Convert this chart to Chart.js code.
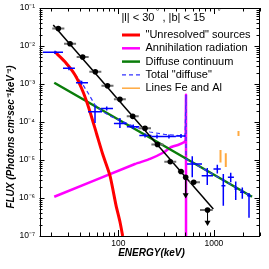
<!DOCTYPE html>
<html>
<head>
<meta charset="utf-8">
<script src="https://cdn.jsdelivr.net/npm/chart.js@4.4.1/dist/chart.umd.min.js"></script>
<style>
  html, body { margin: 0; padding: 0; background: #fff; }
  #wrap { width: 269px; height: 269px; position: relative; }
</style>
</head>
<body>
<div id="wrap"><canvas id="fluxChart"></canvas></div>
<script>
// tick labels
const xLabelValues = [100, 1000];
const xLabelText = ['100', '1000'];
const yLabelValues = [1e-1, 1e-2, 1e-3, 1e-4, 1e-5, 1e-6, 1e-7];
const yLabelText = ['10⁻¹', '10⁻²', '10⁻³', '10⁻⁴', '10⁻⁵', '10⁻⁶', '10⁻⁷'];

// measured points (black) with horizontal bins
const ptE = [23.6, 31.3, 42.4, 57.5, 77.1, 104, 141.6, 190.4, 257, 350, 453, 507, 615, 858];
const ptF = [2.89e-2, 1.15e-2, 5.14e-3, 2.11e-3, 8.97e-4, 3.95e-4, 1.41e-4, 6.83e-5, 2.56e-5, 9.0e-6, 4.98e-6, 3.5e-6, 2.6e-6, 4.83e-7];
const ptElo = [20.4, 27.1, 36.7, 49.8, 66.7, 90, 122.6, 165, 222, 303, 420, 490, 553, 716];
const ptEhi = [27.3, 36.2, 49.0, 66.5, 89.1, 120, 163.6, 220, 297, 404, 490, 525, 716, 973];
const limE = [507, 858];
const limF = [3.5e-6, 4.83e-7];
const limTo = [1.2e-6, 2.26e-7];

// power-law fit through the points
const fitE = [20.9, 986];
const fitF = [3.57e-2, 5.14e-7];

// "diffuse" points (blue)
const dfE = [21.8, 30.5, 41.4, 57.1, 75.7, 104, 143.5, 190.5, 254, 339, 453, 594, 853, 1086, 1255, 1500, 1692, 1983, 2330];
const dfF = [6.83e-3, 2.59e-3, 1.08e-3, 1.87e-4, 2.27e-4, 9.2e-5, 7.5e-5, 4.41e-5, 4.15e-5, 4.15e-5, 4.28e-5, 7.85e-6, 3.86e-6, 5.8e-6, 2.11e-6, 3.5e-6, 1.73e-6, 1.41e-6, 1.15e-6];
const dfElo = [16.3, 26.4, 36.1, 48.2, 66, 90, 123, 166, 222, 297, 400, 524, 745, 990, 1200, 1400, 1640, 1880, 2230];
const dfEhi = [26.4, 35.2, 48.2, 67.6, 88, 122, 166, 222, 297, 400, 505, 751, 980, 1180, 1320, 1620, 1760, 2090, 2430];
const dfFlo = [6.2e-3, 2.3e-3, 9.5e-4, 9.4e-5, 2.0e-4, 7.0e-5, 6.5e-5, 3.9e-5, 3.7e-5, 3.7e-5, 3.8e-5, 3.5e-6, 2.2e-6, 4.4e-6, 6.3e-7, 2.6e-6, 8.8e-7, 9.6e-7, 3.0e-7];
const dfFhi = [7.5e-3, 2.9e-3, 1.22e-3, 2.64e-4, 2.55e-4, 1.27e-4, 8.6e-5, 5.0e-5, 4.7e-5, 4.7e-5, 4.8e-5, 1.25e-5, 6.2e-6, 7.5e-6, 4.3e-6, 4.6e-6, 2.7e-6, 1.9e-6, 1.35e-6];

// model components
const srcE = [21.8, 27.7, 35.3, 43.1, 50.6, 59.4, 69.2, 81.9, 94.6, 104, 111.2];
const srcF = [6.95e-3, 3.86e-3, 1.73e-3, 5.97e-4, 1.87e-4, 4.83e-5, 1.35e-5, 3.86e-6, 6.5e-7, 2.4e-7, 1e-7];

const annE = [21.4, 149.6, 215, 300, 353, 421, 486, 505, 511, 511];
const annF = [1.08e-6, 7.85e-6, 1.07e-5, 1.6e-5, 2.16e-5, 2.48e-5, 2.92e-5, 3.4e-5, 5.1e-4, 1e-8];

const contE = [21.4, 169, 2506];
const contF = [1.08e-3, 5.46e-5, 1.08e-6];

const totE = [22.3, 31.3, 41.4, 48.5, 57.1, 67.1, 81.9, 104, 150, 215, 308, 421, 499, 511, 511, 1000, 2506];
const totF = [6.43e-3, 2.59e-3, 1.08e-3, 5.69e-4, 2.8e-4, 1.95e-4, 1.44e-4, 1.09e-4, 7.4e-5, 5.46e-5, 4.69e-5, 4.41e-5, 4.28e-5, 5.1e-4, 1.06e-5, 4.08e-6, 1.08e-6];

// 60Fe and 26Al lines
const lineE = [1173, 1332, 1809];
const lineLo = [8.6e-6, 6.5e-6, 4.3e-5];
const lineHi = [1.83e-5, 1.5e-5, 5.8e-5];

const FONT = "'Liberation Sans', Arial, Helvetica, sans-serif";

function pts(xs, ys) {
  return xs.map((x, i) => ({ x, y: ys[i] }));
}

// segments separated by gaps: [[x1, y1, x2, y2], ...]
function segs(list) {
  const out = [];
  list.forEach(([x1, y1, x2, y2]) => {
    out.push({ x: x1, y: y1 }, { x: x2, y: y2 }, { x: x2, y: null });
  });
  return out;
}

function sameLog(a, b) {
  return Math.abs(Math.log10(a) - Math.log10(b)) < 1e-6;
}

function labelFor(values, texts, v) {
  const i = values.findIndex((lv) => sameLog(lv, v));
  return i >= 0 ? texts[i] : '';
}

// tick positions: decades plus 2..9 inside each
const xTicks = [];
for (let d = 10; d <= 1000; d *= 10) {
  for (let m = 1; m <= 9; m++) {
    const v = m * d;
    if (v >= 15 && v <= 3000) xTicks.push(v);
  }
}
const yTicks = [];
for (let p = -7; p <= -1; p++) {
  for (let m = 1; m <= 9; m++) {
    const v = m * Math.pow(10, p);
    if (v <= 0.1 * 1.0000001) yTicks.push(v);
  }
}

const dfBars = segs([
  ...dfE.map((e, i) => [dfElo[i], dfF[i], dfEhi[i], dfF[i]]),
  ...dfE.map((e, i) => [e, dfFlo[i], e, dfFhi[i]]),
]);
const ptBars = segs(ptE.map((e, i) => [ptElo[i], ptF[i], ptEhi[i], ptF[i]]));
const limBars = segs(limE.map((e, i) => [e, limF[i], e, limTo[i]]));
const lineBars = segs(lineE.map((e, i) => [e, lineLo[i], e, lineHi[i]]));

const framePlugin = {
  id: 'frame',
  afterDatasetsDraw(chart) {
    const { ctx, chartArea: a, scales } = chart;
    const x = scales.x, y = scales.y;
    ctx.save();
    ctx.strokeStyle = '#000';
    ctx.lineWidth = 1;
    ctx.beginPath();
    xTicks.forEach((v) => {
      const px = Math.round(x.getPixelForValue(v)) + 0.5;
      const len = xLabelValues.some((lv) => sameLog(lv, v)) ? 6 : 3.5;
      ctx.moveTo(px, a.bottom); ctx.lineTo(px, a.bottom - len);
      ctx.moveTo(px, a.top); ctx.lineTo(px, a.top + len);
    });
    yTicks.forEach((v) => {
      const py = Math.round(y.getPixelForValue(v)) + 0.5;
      const len = yLabelValues.some((lv) => sameLog(lv, v)) ? 5 : 3;
      ctx.moveTo(a.left, py); ctx.lineTo(a.left + len, py);
      ctx.moveTo(a.right, py); ctx.lineTo(a.right - len, py);
    });
    ctx.stroke();
    ctx.strokeRect(Math.round(a.left) + 0.5, Math.round(a.top) + 0.5,
      Math.round(a.width) - 1, Math.round(a.height));
    ctx.restore();
  },
  afterDraw(chart) {
    const { ctx, chartArea: a } = chart;
    ctx.save();
    ctx.fillStyle = '#000';
    ctx.textBaseline = 'middle';

    // region label
    ctx.font = '11px ' + FONT;
    ctx.fillText('|l| < 30', a.left + 82, a.top + 10);
    ctx.fillText(', |b| < 15', a.left + 123, a.top + 10);
    ctx.font = '8px ' + FONT;
    ctx.fillText('°', a.left + 116.5, a.top + 4);
    ctx.fillText('°', a.left + 178, a.top + 4);

    // legend
    const items = chart.data.datasets.filter((d) => d.legendRow !== undefined)
      .sort((p, q) => p.legendRow - q.legendRow);
    ctx.font = '11px ' + FONT;
    items.forEach((d) => {
      const yy = a.top + 27 + d.legendRow * 13.3;
      ctx.strokeStyle = d.borderColor;
      ctx.lineWidth = d.legendWidth || d.borderWidth;
      ctx.setLineDash(d.borderDash || []);
      ctx.beginPath();
      ctx.moveTo(a.left + 82.5, yy);
      ctx.lineTo(a.left + 100.5, yy);
      ctx.stroke();
      ctx.setLineDash([]);
      ctx.fillText(d.label, a.left + 106, yy);
    });

    // axis titles
    ctx.font = 'italic bold 10px ' + FONT;
    ctx.textAlign = 'center';
    ctx.fillText('ENERGY(keV)', 151.5, 253);
    ctx.translate(11, 137);
    ctx.rotate(-Math.PI / 2);
    ctx.fillText('FLUX (Photons cm²sec⁻¹keV⁻¹)', 0, 0);
    ctx.restore();
  },
};

Chart.defaults.font.family = FONT;
Chart.defaults.color = '#000';

new Chart(document.getElementById('fluxChart'), {
  type: 'line',
  data: {
    datasets: [
      { label: 'points', type: 'scatter', data: pts(ptE, ptF), order: 0,
        pointRadius: 2.8, pointBackgroundColor: '#000', pointBorderWidth: 0, showLine: false },
      { label: 'limits', type: 'scatter', data: pts(limE, limTo), order: 1,
        pointStyle: 'triangle', rotation: 180, pointRadius: 3.5,
        pointBackgroundColor: '#000', pointBorderColor: '#000', pointBorderWidth: 0, showLine: false },
      { label: 'limit bars', data: limBars, order: 2, borderColor: '#000', borderWidth: 1, pointRadius: 0 },
      { label: 'bins', data: ptBars, order: 3, borderColor: '#6e6e6e', borderWidth: 2, pointRadius: 0 },
      { label: 'fit', data: pts(fitE, fitF), order: 4, borderColor: '#000', borderWidth: 1.5, pointRadius: 0 },
      { label: 'diffuse bars', data: dfBars, order: 5, borderColor: '#0000ff', borderWidth: 1.5, pointRadius: 0 },
      { label: 'Lines Fe and Al', legendRow: 4, legendWidth: 1.5, data: lineBars, order: 6,
        borderColor: '#ffa940', borderWidth: 2, pointRadius: 0 },
      { label: '"Unresolved" sources', legendRow: 0, data: pts(srcE, srcF), order: 7,
        borderColor: '#ff0000', borderWidth: 3, pointRadius: 0, tension: 0.2 },
      { label: 'Total "diffuse"', legendRow: 3, data: pts(totE, totF), order: 8,
        borderColor: '#3333ff', borderWidth: 1.2, borderDash: [4, 3], pointRadius: 0 },
      { label: 'Diffuse continuum', legendRow: 2, data: pts(contE, contF), order: 9,
        borderColor: '#0a7d0a', borderWidth: 2.5, pointRadius: 0 },
      { label: 'Annihilation radiation', legendRow: 1, data: pts(annE, annF), order: 10,
        borderColor: '#ff00ff', borderWidth: 2.5, pointRadius: 0, tension: 0.15 },
    ],
  },
  options: {
    responsive: true,
    maintainAspectRatio: false,
    animation: false,
    devicePixelRatio: 1,
    layout: { padding: { top: 8, right: 9.5, left: 0, bottom: 0 } },
    plugins: { legend: { display: false }, tooltip: { enabled: false } },
    scales: {
      x: {
        type: 'logarithmic', min: 15, max: 3000,
        afterBuildTicks: (s) => { s.ticks = xTicks.map((v) => ({ value: v })); },
        afterFit: (s) => { s.height = 33; s.paddingLeft = 0; s.paddingRight = 0; },
        grid: { display: false, drawTicks: false },
        border: { display: false },
        ticks: {
          autoSkip: false, maxRotation: 0, minRotation: 0, padding: 3,
          font: { size: 8.5 },
          callback: (v) => labelFor(xLabelValues, xLabelText, v),
        },
      },
      y: {
        type: 'logarithmic', min: 1e-7, max: 1e-1,
        afterBuildTicks: (s) => { s.ticks = yTicks.map((v) => ({ value: v })); },
        afterFit: (s) => { s.width = 39.5; s.paddingTop = 0; s.paddingBottom = 0; },
        grid: { display: false, drawTicks: false },
        border: { display: false },
        ticks: {
          autoSkip: false, padding: 4.5,
          font: { size: 8.5 },
          callback: (v) => labelFor(yLabelValues, yLabelText, v),
        },
      },
    },
  },
  plugins: [framePlugin],
});
</script>
</body>
</html>
